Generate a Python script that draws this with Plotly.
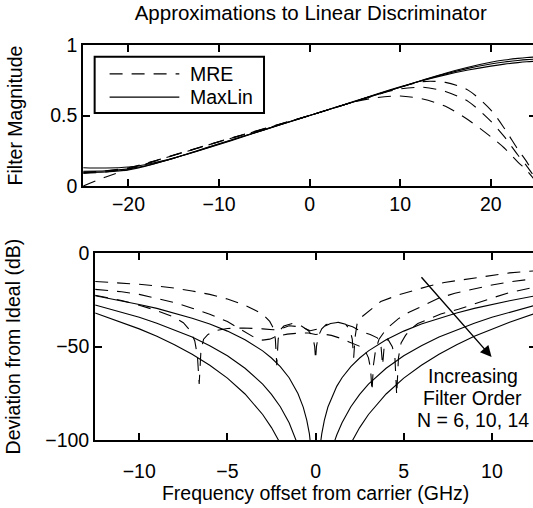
import plotly.graph_objects as go

# ---------------- data: top panel (filter magnitude) ----------------
x_top = [-25, -22.5, -20, -17.5, -15, -12.5, -10, -7.5, -5, -2.5, 0, 2.5, 5, 7.5,
         10, 12.5, 15, 17.5, 20, 21.5, 23, 24, 25]
maxlin6_top = [0.13, 0.128, 0.135, 0.16, 0.198, 0.245, 0.295, 0.346, 0.398, 0.449, 0.5, 0.551,
               0.602, 0.654, 0.703, 0.748, 0.788, 0.822, 0.85, 0.864, 0.875, 0.881, 0.885]
maxlin10_top = [0.105, 0.108, 0.122, 0.153, 0.197, 0.247, 0.298, 0.349, 0.4, 0.45, 0.5, 0.55,
                0.6, 0.651, 0.701, 0.75, 0.795, 0.834, 0.865, 0.879, 0.89, 0.896, 0.9]
maxlin14_top = [0.095, 0.1, 0.115, 0.152, 0.198, 0.249, 0.3, 0.35, 0.4, 0.45, 0.5, 0.55,
                0.6, 0.65, 0.7, 0.751, 0.8, 0.842, 0.877, 0.893, 0.905, 0.911, 0.915]
mre6_top = [0.0, 0.065, 0.118, 0.168, 0.218, 0.266, 0.314, 0.36, 0.405, 0.452, 0.5, 0.55,
            0.598, 0.627, 0.638, 0.617, 0.565, 0.47, 0.35, 0.27, 0.17, 0.11, 0.03]
mre10_top = [0.09, 0.1, 0.125, 0.17, 0.218, 0.266, 0.314, 0.36, 0.406, 0.453, 0.5, 0.55,
             0.6, 0.648, 0.688, 0.70, 0.67, 0.6, 0.46, 0.35, 0.22, 0.14, 0.05]
mre14_top = [0.1, 0.108, 0.13, 0.172, 0.22, 0.268, 0.316, 0.362, 0.407, 0.454, 0.5, 0.55,
             0.6, 0.65, 0.70, 0.74, 0.735, 0.68, 0.54, 0.41, 0.26, 0.17, 0.06]

# ---------------- data: bottom panel (deviation, dB) ----------------
x_maxlin = [-12.5, -11, -10, -9, -8, -7, -6, -5, -4, -3, -2.5, -2, -1.5, -1.2, -1, -0.7, -0.5,
            -0.35, -0.25, -0.15, 0, 0.15, 0.25, 0.35, 0.5, 0.7, 1, 1.2, 1.5, 2, 2.5, 3, 4, 5,
            6, 7, 8, 9, 10, 11, 12.5]
maxlin6_dev = [-22.7, -25.4, -27.4, -29.5, -32.0, -34.8, -37.9, -41.7, -46.3, -52.3, -56.1,
               -60.7, -66.7, -71.3, -75.1, -82.4, -89.4, -96.8, -103.8, -114.4, -140,
               -114.4, -103.8, -96.8, -89.4, -82.4, -75.1, -71.3, -66.7, -60.7, -56.1, -52.3,
               -46.3, -41.7, -37.9, -34.8, -32.0, -29.5, -27.4, -25.4, -22.7]
maxlin10_dev = [-27.7, -31.5, -34.3, -37.5, -41.0, -44.9, -49.5, -54.9, -61.6, -70.1, -75.6,
                -82.2, -90.8, -97.4, -102.8, -113.4, -123.4, -134.1, -144.1, -159.3, -180,
                -159.3, -144.1, -134.1, -123.4, -113.4, -102.8, -97.4, -90.8, -82.2, -75.6,
                -70.1, -61.6, -54.9, -49.5, -44.9, -41.0, -37.5, -34.3, -31.5, -27.7]
maxlin14_dev = [-32.0, -36.9, -40.5, -44.5, -49.0, -54.1, -60.0, -66.9, -75.4, -86.4, -93.4,
                -101.9, -112.8, -121.3, -128.3, -141.9, -154.7, -168.3, -181.2, -200.6, -220,
                -200.6, -181.2, -168.3, -154.7, -141.9, -128.3, -121.3, -112.8, -101.9, -93.4,
                -86.4, -75.4, -66.9, -60.0, -54.1, -49.0, -44.5, -40.5, -36.9, -32.0]

x_mre6 = [-12.5, -11, -10, -9, -8, -7, -6, -5, -4, -3, -2.6, -2.4, -2.28, -2.2, -2.12, -2.0,
          -1.8, -1.3, -0.8, -0.4, -0.15, -0.05, 0, 0.05, 0.15, 0.35, 0.6, 0.9, 1.3, 1.7, 1.95,
          2.08, 2.16, 2.24, 2.35, 2.5, 2.75, 3.0, 3.7, 4.7, 5.65, 6.4, 7.3, 8.2, 9, 10, 11, 12.5]
mre6_dev = [-15.1, -15.8, -16.6, -17.5, -18.6, -20.2, -22.0, -24.5, -27.8, -32.5, -36.5, -40,
            -46, -60, -46, -41, -39, -37.6, -39.0, -41.5, -45, -50, -57, -50, -44.5, -40.5,
            -38.2, -37.4, -37.0, -38.0, -41, -46, -56, -45, -38, -35, -33, -31, -25.8, -22.3,
            -19.7, -17.6, -15.6, -14.4, -13, -11.6, -10.5, -9.3]

x_mre10 = [-12.5, -11, -10, -9, -8, -7, -6, -5, -4, -3.4, -3, -2.6, -2.2, -1.6, -1.0, -0.4, 0,
           0.4, 0.9, 1.4, 1.9, 2.45, 2.8, 3.0, 3.12, 3.2, 3.28, 3.4, 3.6, 3.9, 4.2, 4.7, 5.3,
           6.4, 7.0, 7.9, 9.0, 10.0, 11.0, 12.5]
mre10_dev = [-19.3, -20.6, -22.0, -24.2, -26.4, -29.4, -32.6, -36.6, -42, -45.5, -46.5, -46,
             -44.5, -43.3, -42.8, -42.7, -43.5, -43.2, -44, -45.5, -47.5, -49.6, -52, -56, -62,
             -74, -60, -52, -46, -42, -39, -35, -31.6, -26.5, -24, -21.4, -19, -17, -15.3, -13.5]

x_mre14 = [-12.5, -11, -10, -9, -8, -7.5, -7.1, -6.85, -6.7, -6.6, -6.5, -6.35, -6.1, -5.7,
           -5.0, -4.1, -3.0, -2.4, -1.9, -1.5, -0.8, -0.3, 0.28, 0.85, 1.3, 2.1, 2.6, 3.1, 3.5,
           3.7, 3.8, 3.9, 4.1, 4.35, 4.5, 4.6, 4.7, 4.85, 5.1, 5.4, 5.8, 6.5, 7.1, 8.1, 9.0,
           10.0, 11.0, 12.5]
mre14_dev = [-22.5, -25.3, -27.8, -30.7, -34.3, -37.2, -41.5, -47, -55, -70, -52, -46, -43.5,
             -41.5, -40.3, -40.0, -40.5, -41, -40.2, -38.8, -39.5, -41.5, -40.2, -37.6, -37.0,
             -39.3, -41.9, -43.5, -45.3, -48.5, -60, -49, -46, -50, -56, -76, -56, -48, -44,
             -40.5, -37.6, -35, -32.5, -30, -27, -24, -21, -18]

top_xticks = [-20, -10, 0, 10, 20]
top_yticks = [0, 0.5, 1]
top_yticktext = ["0", "0.5", "1"]
bot_xticks = [-10, -5, 0, 5, 10]
bot_yticks = [-100, -50, 0]

legend_labels = ["MRE", "MaxLin"]
annotation_lines = ["Increasing", "Filter Order", "N = 6, 10, 14"]

# ---------------- styling / layout ----------------
W, H = 538, 508
FONT = "Liberation Sans"
FS = 19.5
DASH = "13px,9px"
LW = 1.1


def px_x(X):
    return X / W


def px_y(Y):
    return 1 - Y / H


fig = go.Figure()

for ys, dash in [(mre6_top, DASH), (mre10_top, DASH), (mre14_top, DASH),
                 (maxlin6_top, "solid"), (maxlin10_top, "solid"), (maxlin14_top, "solid")]:
    fig.add_trace(go.Scatter(x=x_top, y=ys, mode="lines", xaxis="x", yaxis="y",
                             line=dict(color="black", width=LW, dash=dash, shape="spline",
                                       smoothing=0.8),
                             showlegend=False, hoverinfo="skip"))

for xs, ys, dash in [(x_mre6, mre6_dev, DASH), (x_mre10, mre10_dev, DASH),
                     (x_mre14, mre14_dev, DASH),
                     (x_maxlin, maxlin6_dev, "solid"), (x_maxlin, maxlin10_dev, "solid"),
                     (x_maxlin, maxlin14_dev, "solid")]:
    fig.add_trace(go.Scatter(x=xs, y=ys, mode="lines", xaxis="x2", yaxis="y2",
                             line=dict(color="black", width=LW, dash=dash),
                             showlegend=False, hoverinfo="skip"))

axis_common = dict(showline=True, linecolor="black", linewidth=2, mirror="ticks",
                   ticks="inside", ticklen=7, tickwidth=1.5, tickcolor="black",
                   showgrid=False, zeroline=False,
                   tickfont=dict(family=FONT, size=FS, color="black"))

fig.update_layout(
    width=W, height=H,
    margin=dict(l=0, r=0, t=0, b=0),
    paper_bgcolor="white", plot_bgcolor="white",
    font=dict(family=FONT, size=FS, color="black"),
    showlegend=False,
    title=dict(text="Approximations to Linear Discriminator", x=310.7 / W, xanchor="center",
               y=px_y(13), yanchor="middle", font=dict(family=FONT, size=20.5, color="black")),
    xaxis=dict(domain=[83.5 / W, 1], range=[-25, 25], anchor="y", tickvals=top_xticks,
               **axis_common),
    yaxis=dict(domain=[px_y(183), px_y(35.5)], range=[0, 1], anchor="x", tickvals=top_yticks,
               ticktext=top_yticktext,
               title=dict(text="Filter Magnitude", standoff=22,
                          font=dict(family=FONT, size=FS, color="black")),
               **axis_common),
    xaxis2=dict(domain=[95.5 / W, 1], range=[-12.5, 12.5], anchor="y2", tickvals=bot_xticks,
                ticklabelstandoff=13,
                title=dict(text="Frequency offset from carrier (GHz)", standoff=3,
                           font=dict(family=FONT, size=FS, color="black")),
                **axis_common),
    yaxis2=dict(domain=[px_y(448.3), px_y(253.3)], range=[-100, 0], anchor="x2",
                tickvals=bot_yticks,
                title=dict(text="Deviation from Ideal (dB)", standoff=19,
                           font=dict(family=FONT, size=FS, color="black")),
                **axis_common),
)

# manual legend box (matches the boxed MATLAB legend)
fig.add_shape(type="rect", xref="paper", yref="paper", x0=px_x(95), x1=px_x(265),
              y0=px_y(106.7), y1=px_y(47.7), line=dict(color="black", width=2),
              fillcolor="white", layer="above")
fig.add_shape(type="line", xref="paper", yref="paper", x0=px_x(110), x1=px_x(180),
              y0=px_y(65.7), y1=px_y(65.7), line=dict(color="black", width=LW, dash=DASH),
              layer="above")
fig.add_shape(type="line", xref="paper", yref="paper", x0=px_x(110), x1=px_x(180),
              y0=px_y(90), y1=px_y(90), line=dict(color="black", width=LW), layer="above")
for label, Y in zip(legend_labels, [65.7, 90]):
    fig.add_annotation(text=label, xref="paper", yref="paper", x=px_x(189), y=px_y(Y),
                       xanchor="left", yanchor="middle", showarrow=False,
                       font=dict(family=FONT, size=FS, color="black"))

# arrow and label
fig.add_annotation(x=9.98, y=-55.6, ax=5.93, ay=-12, xref="x2", yref="y2", axref="x2",
                   ayref="y2", text="", showarrow=True, arrowhead=2, arrowsize=1.6,
                   arrowwidth=1.4, arrowcolor="black")
for line_text, Y in zip(annotation_lines, [382, 405, 428]):
    fig.add_annotation(text=line_text, x=8.9, y=-(Y - 253.3) / 1.95, xref="x2", yref="y2",
                       showarrow=False, xanchor="center", yanchor="middle",
                       font=dict(family=FONT, size=FS, color="black"))

fig.write_html("out.html", config={"displayModeBar": False},
               post_script="document.body.style.margin='0';document.body.style.overflow='hidden';")
